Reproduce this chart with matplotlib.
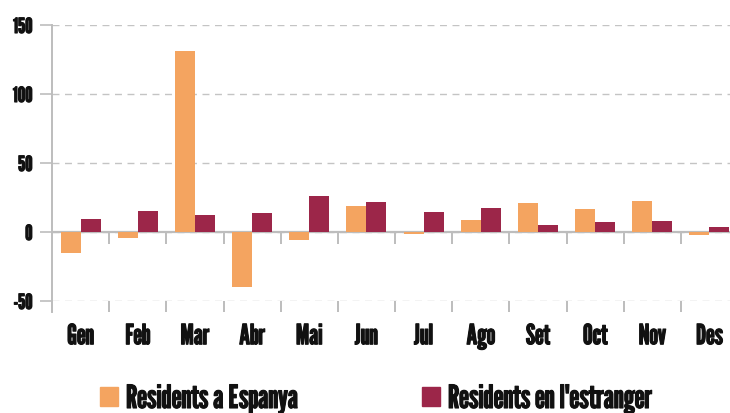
import matplotlib
matplotlib.use("Agg")
import matplotlib.pyplot as plt
import matplotlib.patheffects as pe
from matplotlib.patches import Patch
from matplotlib.lines import Line2D
import numpy as np

# data
mesos = ['Gen', 'Feb', 'Mar', 'Abr', 'Mai', 'Jun', 'Jul', 'Ago', 'Set', 'Oct', 'Nov', 'Des']
espanya = [-15, -4.6, 131.2, -40.1, -6, 19, -1.2, 8.9, 21.2, 16.9, 22.7, -2]
estranger = [9.6, 15.4, 12.5, 14, 26.3, 21.9, 14.7, 17.6, 5.3, 7.5, 8.2, 3.8]
yticks = [-50, 0, 50, 100, 150]
series_names = ['Residents a Espanya', "Residents en l'estranger"]

c_esp = '#F4A460'
c_est = '#9C2649'
grey = '#BDBDBD'
ink = '#111111'

plt.rcParams['font.family'] = ['League Gothic', 'DejaVu Sans']
plt.rcParams['text.color'] = ink
plt.rcParams['xtick.labelcolor'] = ink
plt.rcParams['ytick.labelcolor'] = ink
bold = [pe.withStroke(linewidth=0.8, foreground=ink)]

fig = plt.figure(figsize=(7.3, 4.14), dpi=100)
W, H = 730, 414
# axes spans 12 categories of ~57 px; right edge falls outside the picture
ax = fig.add_axes([52/W, 1-302/H, 686/W, 276/H])

x = np.arange(len(mesos))
bw = 0.35
ax.bar(x - bw/2, espanya, bw, color=c_esp, zorder=3)
ax.bar(x + bw/2, estranger, bw, color=c_est, zorder=3)

ax.set_xlim(-0.5, len(mesos) - 0.5)
ax.set_ylim(-50, 150)
ax.set_yticks(yticks)
ax.set_yticklabels([str(v) for v in yticks], fontsize=15)
ax.yaxis.grid(True, color='#C4C4C4', linestyle=(0, (5, 4)), linewidth=1, zorder=0)
ax.axhline(0, color=grey, lw=1.6, zorder=2)

# category boundaries for ticks
edges = np.arange(len(mesos) + 1) - 0.5
ax.set_xticks(edges)
ax.set_xticklabels([])
ax.set_xticks(x, minor=True)
ax.set_xticklabels(mesos, minor=True, fontsize=20)
ax.tick_params(axis='x', which='major', length=8, width=1.4, color=grey, direction='out')
ax.tick_params(axis='x', which='minor', length=0, pad=16)
ax.tick_params(axis='y', length=9, width=1.2, color=grey, pad=5)
ax.vlines(edges, -8.5, 0, color=grey, lw=1.4, zorder=2)
for t in ax.get_xticklabels(minor=True) + ax.get_yticklabels():
    t.set_path_effects(bold)

for s in ['top', 'right', 'bottom', 'left']:
    ax.spines[s].set_visible(False)
ax.add_line(Line2D([0, 0], [-0.04, 1], transform=ax.transAxes, color=grey, lw=1.4, clip_on=False))

handles = [Patch(color=c_esp), Patch(color=c_est)]
leg = fig.legend(handles, series_names, loc='center left', bbox_to_anchor=(100/W, 1-400/H),
                 ncol=2, frameon=False, fontsize=23, handlelength=0.56, handleheight=0.56,
                 handletextpad=0.25, columnspacing=3.9, borderaxespad=0, borderpad=0)
for t in leg.get_texts():
    t.set_path_effects(bold)

fig.savefig('out.png', dpi=100)
